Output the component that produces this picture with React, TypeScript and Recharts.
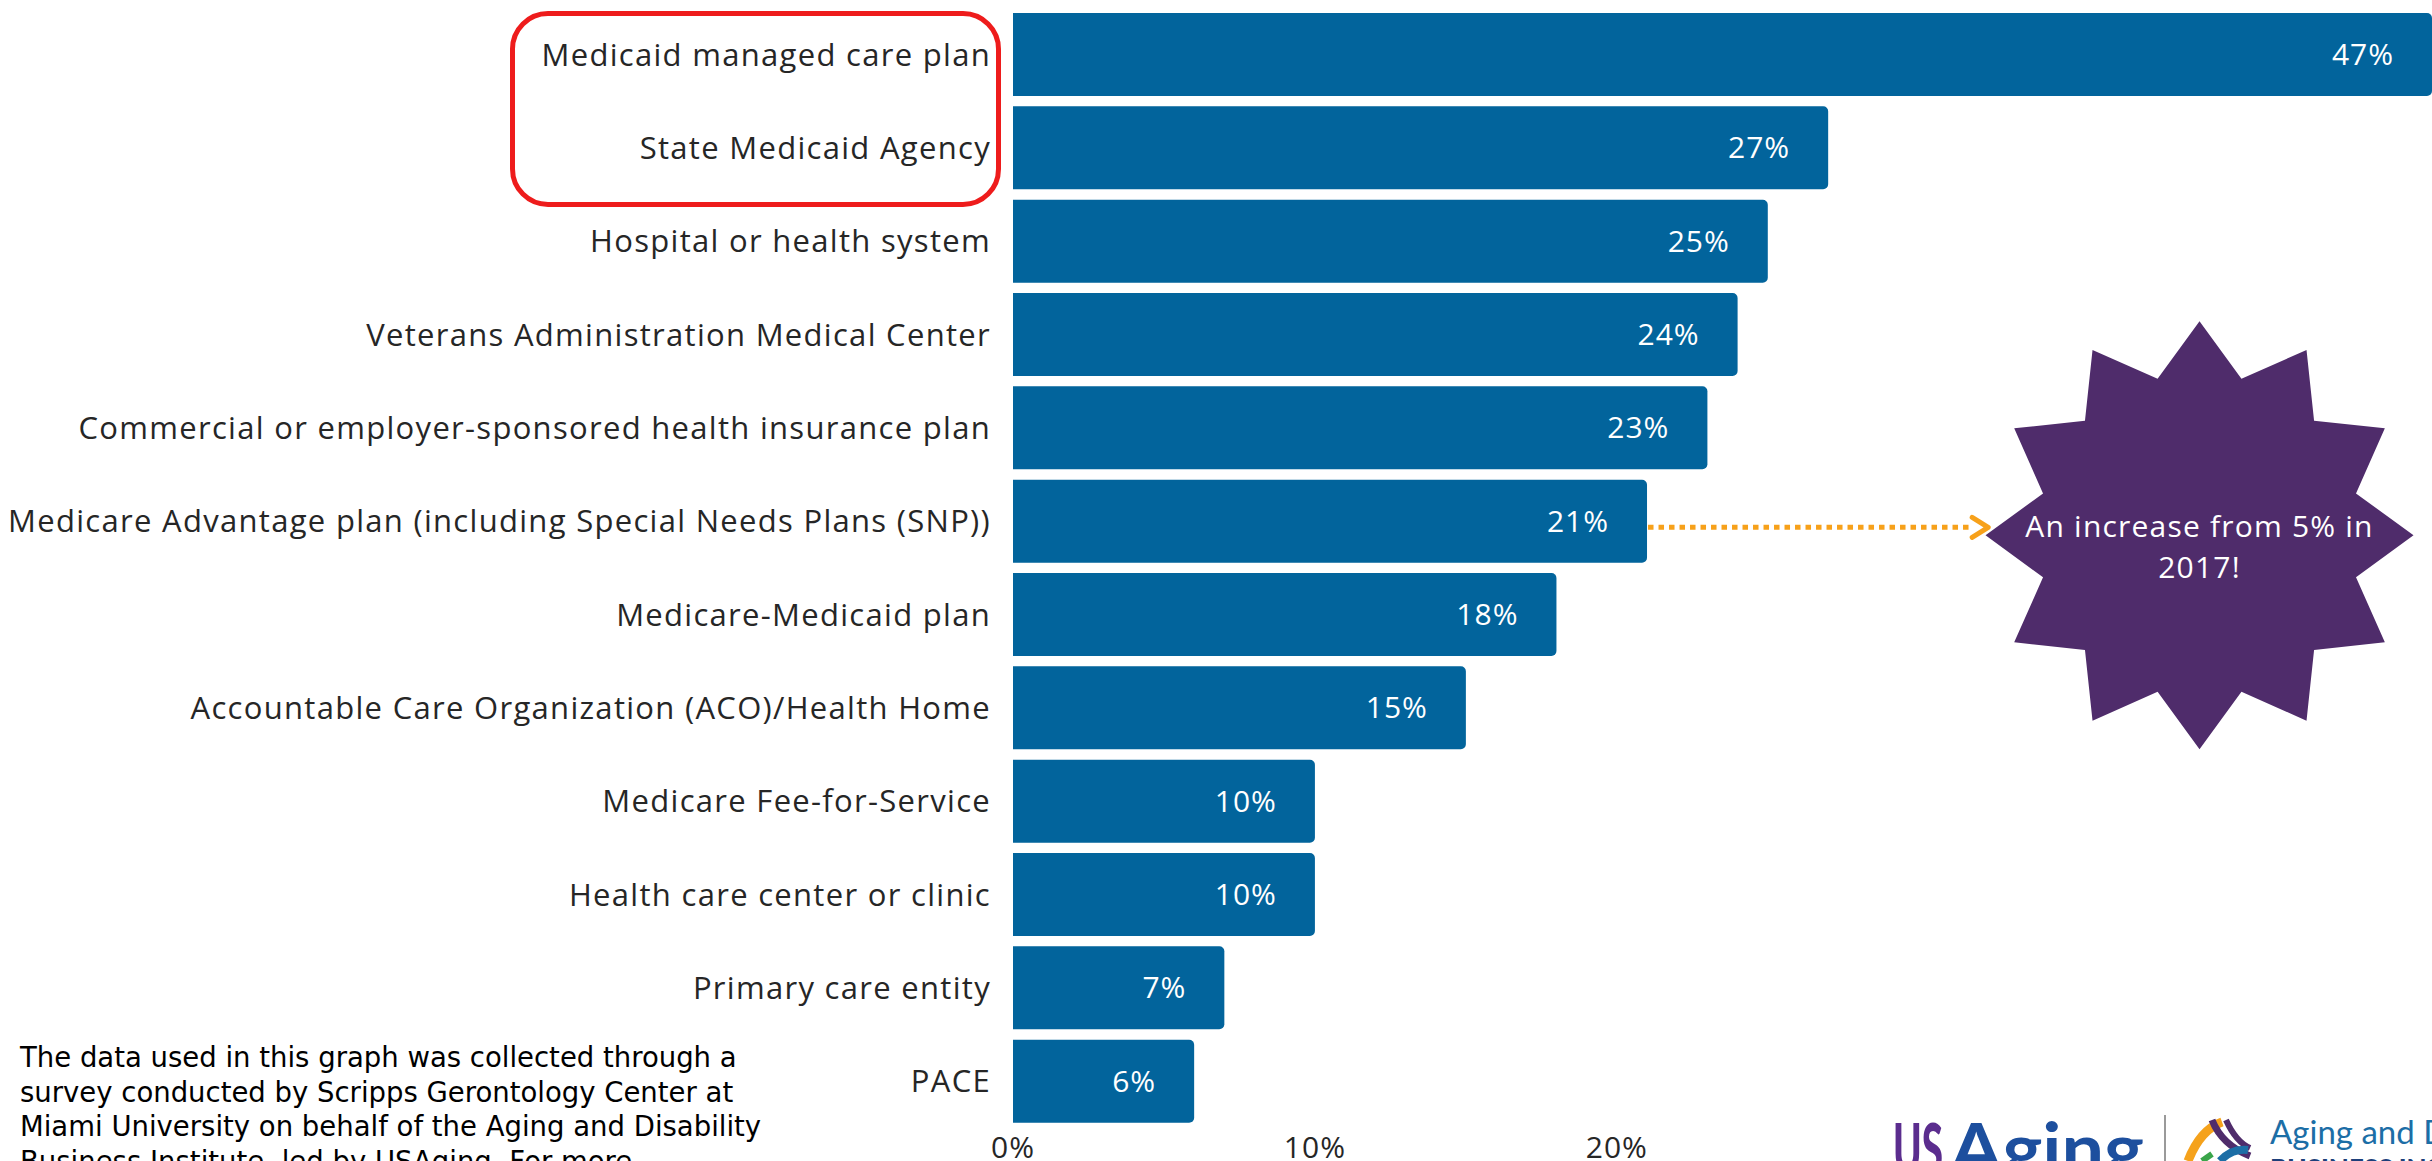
import React from 'react'
import {
  BarChart,
  Bar,
  XAxis,
  YAxis,
  LabelList,
  ReferenceLine,
  ReferenceDot,
} from 'recharts'

// survey answers, top to bottom
const categories = [
  'Medicaid managed care plan',
  'State Medicaid Agency',
  'Hospital or health system',
  'Veterans Administration Medical Center',
  'Commercial or employer-sponsored health insurance plan',
  'Medicare Advantage plan (including Special Needs Plans (SNP))',
  'Medicare-Medicaid plan',
  'Accountable Care Organization (ACO)/Health Home',
  'Medicare Fee-for-Service',
  'Health care center or clinic',
  'Primary care entity',
  'PACE',
]
const values = [47, 27, 25, 24, 23, 21, 18, 15, 10, 10, 7, 6]
const xTicks = [0, 10, 20]

const footnoteLines = [
  'The data used in this graph was collected through a',
  'survey conducted by Scripps Gerontology Center at',
  'Miami University on behalf of the Aging and Disability',
  'Business Institute, led by USAging. For more',
]
const starLines = ['An increase from 5% in', '2017!']

const BAR = '#02649c'
const LABEL_FONT = '"Open Sans", sans-serif'

const data = categories.map((name, i) => ({ name, value: values[i] }))

// 12-point burst used for the callout
function Burst(props: any) {
  const { cx, cy } = props
  const c = cy + 14
  const pts: string[] = []
  for (let i = 0; i < 24; i++) {
    const r = i % 2 === 0 ? 214 : 162
    const a = (-90 + i * 15) * (Math.PI / 180)
    pts.push(`${cx + r * Math.cos(a)},${c + r * Math.sin(a)}`)
  }
  return (
    <g>
      <polygon points={pts.join(' ')} fill="#4f2c6b" />
      {starLines.map((t, i) => (
        <text
          key={i}
          x={cx}
          y={c + 2 + i * 41}
          textAnchor="middle"
          fill="#fff"
          fontSize={30}
          letterSpacing={1.2}
          fontFamily={LABEL_FONT}
        >
          {t}
        </text>
      ))}
    </g>
  )
}

function DottedArrow(props: any) {
  const { x1, y1, x2 } = props
  const y = y1 + 6
  return (
    <g>
      <line
        x1={x1 + 1}
        y1={y}
        x2={x2 - 16}
        y2={y}
        stroke="#f7a11a"
        strokeWidth={5}
        strokeDasharray="5.5 5"
      />
      <polyline
        points={`${x2 - 16},${y - 10} ${x2},${y} ${x2 - 16},${y + 10}`}
        fill="none"
        stroke="#f7a11a"
        strokeWidth={5}
        strokeLinecap="round"
        strokeLinejoin="round"
      />
    </g>
  )
}

export default function App() {
  return (
    <div
      style={{
        position: 'absolute',
        left: 0,
        top: 0,
        width: 2432,
        height: 1161,
        overflow: 'hidden',
        background: '#fff',
      }}
    >
      <BarChart
        layout="vertical"
        width={2432}
        height={1161}
        data={data}
        margin={{ top: 8, right: 0, bottom: 0, left: 0 }}
        barSize={83}
      >
        <XAxis
          type="number"
          domain={[0, 47]}
          ticks={xTicks}
          tickFormatter={(v) => `${v}%`}
          axisLine={false}
          tickLine={false}
          tickSize={0}
          tickMargin={9}
          height={33}
          tick={{ fill: '#262626', fontSize: 30, letterSpacing: 1, fontFamily: LABEL_FONT }}
        />
        <YAxis
          type="category"
          dataKey="name"
          width={1013}
          axisLine={false}
          tickLine={false}
          tickSize={0}
          tickMargin={22}
          interval={0}
          tick={{ fill: '#262626', fontSize: 31, letterSpacing: 1.3, fontFamily: LABEL_FONT }}
        />
        <Bar dataKey="value" fill={BAR} radius={[0, 5, 5, 0]} isAnimationActive={false}>
          <LabelList
            dataKey="value"
            position="insideRight"
            offset={38}
            formatter={(v: any) => `${v}%`}
            fill="#fff"
            fontSize={30}
            letterSpacing={1}
            fontFamily={LABEL_FONT}
          />
        </Bar>
        <ReferenceLine
          segment={[
            { x: 21, y: categories[5] },
            { x: 32.3, y: categories[5] },
          ]}
          ifOverflow="visible"
          shape={DottedArrow}
        />
        <ReferenceDot
          x={39.3}
          y={categories[5]}
          ifOverflow="visible"
          shape={Burst}
        />
      </BarChart>

      {/* red highlight box round the first two labels */}
      <div
        style={{
          position: 'absolute',
          left: 510,
          top: 11,
          width: 481,
          height: 186,
          border: '5px solid #ee1c1c',
          borderRadius: 38,
        }}
      />

      {/* source note, cut at the bottom of the slide */}
      <div
        style={{
          position: 'absolute',
          left: 20,
          top: 1040,
          fontFamily: '"DejaVu Sans", sans-serif',
          fontSize: 27.5,
          lineHeight: '34.5px',
          color: '#000',
          whiteSpace: 'pre',
        }}
      >
        {footnoteLines.join('\n')}
      </div>

      {/* logos */}
      <svg
        style={{ position: 'absolute', left: 1850, top: 1090 }}
        width={582}
        height={71}
      >
        <text
          x={43}
          y={84}
          fontFamily="Lato, sans-serif"
          fontWeight={900}
          fontSize={70}
          fill="#5b2d8e"
          textLength={50}
          lengthAdjust="spacingAndGlyphs"
        >
          US
        </text>
        <text
          x={100}
          y={84}
          fontFamily="Lato, sans-serif"
          fontWeight={700}
          fontSize={70}
          fill="#1d4f9e"
          textLength={194}
          lengthAdjust="spacingAndGlyphs"
        >
          Aging
        </text>
        <line x1={315} y1={25} x2={315} y2={71} stroke="#9a9a9a" strokeWidth={2} />
        <path d="M338 71 Q350 40 372 32" stroke="#f5a21c" strokeWidth={9} fill="none" />
        <path d="M362 30 Q372 55 400 66" stroke="#4f2c6b" strokeWidth={7} fill="none" />
        <path d="M376 30 Q386 52 400 58" stroke="#4f2c6b" strokeWidth={6} fill="none" />
        <path d="M352 71 L362 64" stroke="#3aa54a" strokeWidth={6} fill="none" />
        <path d="M370 71 Q382 58 398 60" stroke="#1c6ea6" strokeWidth={8} fill="none" />
        <text x={420} y={54} fontFamily="Lato, sans-serif" fontSize={33} fill="#1c6ea6">
          Aging and Disability
        </text>
        <text x={420} y={88} fontFamily="Lato, sans-serif" fontWeight={900} fontSize={26} fill="#1d3f7a">
          BUSINESS INSTITUTE
        </text>
      </svg>
    </div>
  )
}
